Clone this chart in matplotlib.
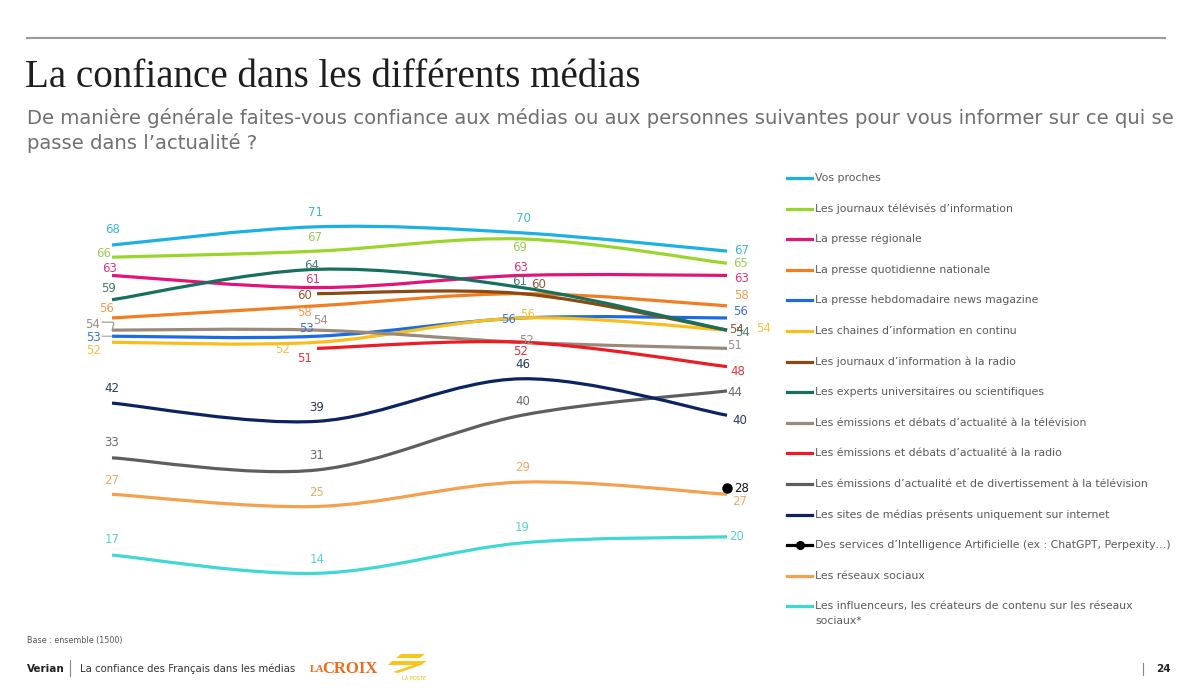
import matplotlib
matplotlib.use("Agg")
import matplotlib.pyplot as plt
from matplotlib.path import Path
from matplotlib.patches import PathPatch, Polygon
from matplotlib.lines import Line2D

# ---------------- data ----------------
waves = [0, 1, 2, 3]  # four survey waves (no axis labels shown)

series_names = [
    "Vos proches",
    "Les journaux télévisés d’information",
    "La presse régionale",
    "La presse quotidienne nationale",
    "La presse hebdomadaire news magazine",
    "Les chaines d’information en continu",
    "Les journaux d’information à la radio",
    "Les experts universitaires ou scientifiques",
    "Les émissions et débats d’actualité à la télévision",
    "Les émissions et débats d’actualité à la radio",
    "Les émissions d’actualité et de divertissement à la télévision",
    "Les sites de médias présents uniquement sur internet",
    "Des services d’Intelligence Artificielle (ex : ChatGPT, Perpexity…)",
    "Les réseaux sociaux",
    "Les influenceurs, les créateurs de contenu sur les réseaux\nsociaux*",
]

vos_proches = [68, 71, 70, 67]
journaux_tv = [66, 67, 69, 65]
presse_regionale = [63, 61, 63, 63]
presse_quotidienne = [56, 58, 60, 58]
presse_hebdo = [53, 53, 56, 56]
chaines_continu = [52, 52, 56, 54]
journaux_radio = [None, 60, 60, 54]
experts = [59, 64, 61, 54]
debats_tv = [54, 54, 52, 51]
debats_radio = [None, 51, 52, 48]
divertissement_tv = [33, 31, 40, 44]
sites_internet = [42, 39, 46, 40]
intelligence_artificielle = [None, None, None, 28]
reseaux_sociaux = [27, 25, 29, 27]
influenceurs = [17, 14, 19, 20]

all_values = [vos_proches, journaux_tv, presse_regionale, presse_quotidienne,
              presse_hebdo, chaines_continu, journaux_radio, experts, debats_tv,
              debats_radio, divertissement_tv, sites_internet,
              intelligence_artificielle, reseaux_sociaux, influenceurs]

# ---------------- styles ----------------
colors = ["#1CB0E4", "#9AD62A", "#E2147C", "#F37E22", "#1B6DDF", "#F8BE1C",
          "#8A4A12", "#17705E", "#9A8A7B", "#EC1B24", "#5E5E5E", "#0B2363",
          "#000000", "#F5A04C", "#3FD8D3"]
label_colors = ["#3DB5E2", "#9CCB56", "#E0357F", "#F39A4E", "#3D74D9", "#F4C23A",
                "#8C5A33", "#4B7B72", "#9A8F85", "#E8323A", "#6A6A6A", "#27385F",
                "#111111", "#F4A866", "#5BD3CF"]

# label offsets in pixels (dx, dy) per series per wave; None = no label
label_offsets = [
    [(1, 16), (-2, 14), (1, 14), (15, 1)],
    [(-8, 4), (-2, 14), (-2, -9), (14, 0)],
    [(-2, 7), (-4, 8), (-1, 8), (15, -3)],
    [(-5, 9), (-13, -7), None, (14, 10)],
    [(-19, -1), (-11, 8), (-13, -2), (14, 6)],
    [(-18, -8), (-34, -7), (6, 3), (37, 2)],
    [None, (-12, -2), (17, 9), (10, 1)],
    [(-3, 11), (-5, 4), (-2, 6), (16, -2)],
    [(-19, 6), (4, 10), (5, 2), (8, 3)],
    [None, (-12, -10), (-1, -9), (11, -5)],
    [(0, 15), (0, 14), (1, 14), (8, -2)],
    [(0, 15), (0, 14), (1, 14), (13, -5)],
    [None, None, None, (15, 0)],
    [(0, 14), (0, 14), (1, 15), (13, -7)],
    [(0, 16), (0, 14), (0, 15), (10, 0)],
]

LABEL_FONT = "DejaVu Sans"
TEXT_FONT = "DejaVu Sans"


def smooth_path(xs, ys):
    """Catmull-Rom style smoothed Bezier path through the given points."""
    n = len(xs)
    verts = [(xs[0], ys[0])]
    codes = [Path.MOVETO]
    for i in range(n - 1):
        x0, y0 = (xs[i - 1], ys[i - 1]) if i > 0 else (xs[i], ys[i])
        x1, y1 = xs[i], ys[i]
        x2, y2 = xs[i + 1], ys[i + 1]
        x3, y3 = (xs[i + 2], ys[i + 2]) if i + 2 < n else (x2, y2)
        c1 = (x1 + (x2 - x0) / 6.0, y1 + (y2 - y0) / 6.0)
        c2 = (x2 - (x3 - x1) / 6.0, y2 - (y3 - y1) / 6.0)
        verts += [c1, c2, (x2, y2)]
        codes += [Path.CURVE4] * 3
    return Path(verts, codes)


fig = plt.figure(figsize=(12, 6.88), dpi=100)
fig.patch.set_facecolor("white")

# main plot axes: pixel box x 60..780, y 170..600
W, H = 1200, 688
ax = fig.add_axes([60 / W, (H - 600) / H, 720 / W, 430 / H])
ax.set_xlim(-0.2537, 3.2585)
ax.set_ylim(9.61, 80.34)
ax.axis("off")

for k, vals in enumerate(all_values):
    pts = [(x, v) for x, v in zip(waves, vals) if v is not None]
    xs = [p[0] for p in pts]
    ys = [p[1] for p in pts]
    if len(pts) >= 2:
        patch = PathPatch(smooth_path(xs, ys), facecolor="none",
                          edgecolor=colors[k], lw=2.3, capstyle="butt",
                          zorder=2 + k * 0.01)
        ax.add_patch(patch)
    else:
        ax.plot(xs, ys, "o", color=colors[k], ms=6.5, zorder=5)
    for (x, v) in pts:
        off = label_offsets[k][x]
        if off is None:
            continue
        ax.annotate(f"{v}", (x, v), xytext=off, textcoords="offset pixels",
                    ha="center", va="center", fontsize=8.5,
                    color=label_colors[k], family=LABEL_FONT, zorder=6)

# small leader lines at first wave (débats TV, hebdo)
ax.annotate("", xy=(waves[0], debats_tv[0]), xytext=(-10, 8),
            textcoords="offset pixels",
            arrowprops=dict(arrowstyle="-", color="#9A8F85", lw=0.8,
                            shrinkA=0, shrinkB=0,
                            connectionstyle="angle,angleA=0,angleB=75,rad=2"))
ax.annotate("", xy=(waves[0], presse_hebdo[0]), xytext=(-10, 0),
            textcoords="offset pixels",
            arrowprops=dict(arrowstyle="-", color="#A0A0A0", lw=0.8,
                            shrinkA=0, shrinkB=0))

# ---------------- titles ----------------
fig.add_artist(Line2D([27 / W, 1165 / W], [1 - 38 / H, 1 - 38 / H],
                      color="#9A9A9A", lw=1.5))
fig.text(25 / W, 1 - 87 / H, "La confiance dans les différents médias",
         fontsize=28.1, family="Liberation Serif", color="#1E1E1E",
         ha="left", va="baseline")
fig.text(27 / W, 1 - 124 / H,
         "De manière générale faites-vous confiance aux médias ou aux personnes suivantes pour vous informer sur ce qui se",
         fontsize=14.1, family=TEXT_FONT, color="#707070", ha="left", va="baseline")
fig.text(27 / W, 1 - 149 / H, "passe dans l’actualité ?",
         fontsize=14.1, family=TEXT_FONT, color="#707070", ha="left", va="baseline")

# ---------------- legend ----------------
leg_y0 = 178
leg_step = 30.6
for k, name in enumerate(series_names):
    yy = 1 - (leg_y0 + k * leg_step) / H
    fig.add_artist(Line2D([787 / W, 812 / W], [yy, yy], color=colors[k], lw=2.3))
    if k == 12:
        fig.add_artist(Line2D([800 / W], [yy], marker="o", ms=5.5,
                              color=colors[k]))
    lines = name.split("\n")
    for j, ln in enumerate(lines):
        fig.text(815 / W, yy - j * 15 / H, ln, fontsize=7.85, family=TEXT_FONT,
                 color="#5A5A5A", ha="left", va="center")

# ---------------- footer ----------------
fig.text(27 / W, 1 - 641 / H, "Base : ensemble (1500)", fontsize=5.8,
         family=TEXT_FONT, color="#555555", ha="left", va="center")
fig.text(27 / W, 1 - 669 / H, "Verian", fontsize=7.5, family=TEXT_FONT,
         color="#222222", weight="bold", ha="left", va="center")
fig.add_artist(Line2D([70 / W, 70 / W], [1 - 660 / H, 1 - 676 / H],
                      color="#888888", lw=0.8))
fig.text(80 / W, 1 - 669 / H, "La confiance des Français dans les médias",
         fontsize=7.25, family=TEXT_FONT, color="#333333", ha="left", va="center")
fig.text(310 / W, 1 - 669 / H, "LA", fontsize=7.5, family="Liberation Serif",
         color="#EE6A1E", weight="bold", ha="left", va="center")
fig.text(322 / W, 1 - 669 / H, "CROIX", fontsize=12, family="Liberation Serif",
         color="#EE6A1E", weight="bold", ha="left", va="center")
for poly in ([(401, 654), (425, 654), (420, 658), (396, 658)],
             [(392, 661), (427, 661), (421, 665), (388, 665)],
             [(393, 672), (416, 664), (421, 665), (398, 673)]):
    fig.add_artist(Polygon([(px / W, 1 - py / H) for px, py in poly],
                           closed=True, facecolor="#F7C51E", edgecolor="none"))
fig.text(414 / W, 1 - 678 / H, "LA POSTE", fontsize=3.6, family=TEXT_FONT,
         color="#F0B400", ha="center", va="center")
fig.add_artist(Line2D([1143 / W, 1143 / W], [1 - 663 / H, 1 - 675 / H],
                      color="#888888", lw=0.8))
fig.text(1156 / W, 1 - 669 / H, "24", fontsize=7.5, family=TEXT_FONT,
         color="#222222", weight="bold", ha="left", va="center")

fig.savefig("out.png", dpi=100, facecolor="white")
